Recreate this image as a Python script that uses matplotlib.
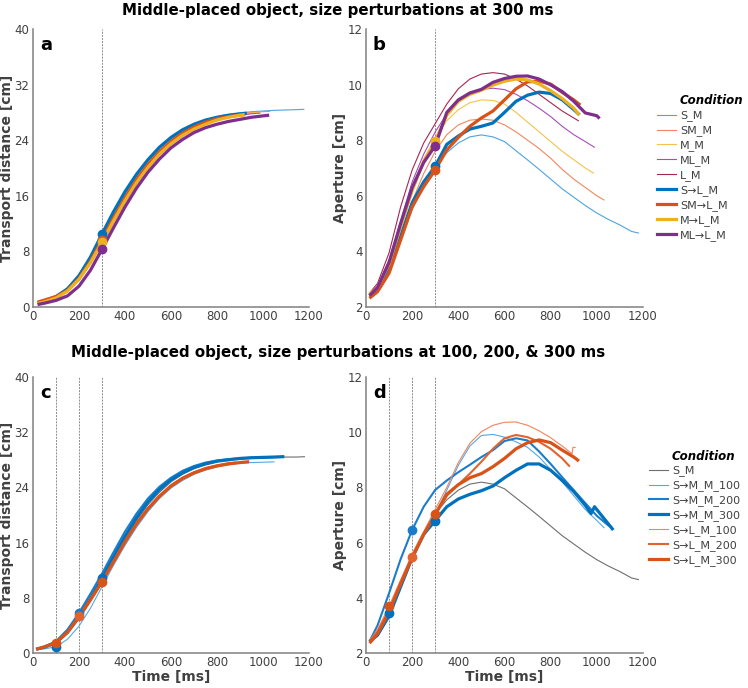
import matplotlib
matplotlib.use("Agg")
import matplotlib.pyplot as plt

plt.rcParams['font.family'] = ['DejaVu Sans']

# ---------------- data ----------------
T_GRID = [20, 50, 100, 150, 200, 250, 300, 350, 400, 450, 500, 550, 600, 650,
          700, 750, 800, 850, 900, 950, 1000, 1050, 1100, 1150, 1180]

# Panel a: transport distance [cm]
a_labels = ["S_M", "SM_M", "M_M", "ML_M", "L_M", "S→L_M", "SM→L_M", "M→L_M", "ML→L_M"]
a_end = [1180, 1031, 985, 989, 920, 930, 923, 920, 1027]
a_S_M = [0.6, 0.9, 1.6, 2.8, 4.7, 7.3, 10.2, 13.3, 16.2, 18.8, 21.0, 22.8, 24.2, 25.3, 26.2,
         26.9, 27.4, 27.7, 27.9, 28.1, 28.2, 28.3, 28.35, 28.4, 28.45]
a_SM_M = [0.7, 1.0, 1.6, 2.6, 4.3, 6.9, 9.9, 13.0, 15.9, 18.5, 20.7, 22.6, 24.0, 25.2, 26.1,
          26.8, 27.3, 27.6, 27.8, 28.0, 28.1, 28.15]
a_M_M = [0.5, 0.8, 1.4, 2.4, 4.1, 6.6, 9.6, 12.7, 15.6, 18.2, 20.4, 22.3, 23.8, 25.0, 25.9,
         26.6, 27.1, 27.4, 27.7, 27.9, 28.0]
a_ML_M = [0.4, 0.65, 1.2, 2.2, 3.8, 6.2, 9.1, 12.2, 15.1, 17.8, 20.0, 21.9, 23.4, 24.6, 25.6,
          26.3, 26.9, 27.3, 27.6, 27.8, 27.9]
a_L_M = [0.5, 0.8, 1.3, 2.3, 4.0, 6.5, 9.5, 12.6, 15.5, 18.1, 20.3, 22.2, 23.7, 24.9, 25.8,
         26.5, 27.0, 27.4, 27.7, 27.8]
a_S_L = [0.6, 0.9, 1.5, 2.6, 4.5, 7.2, 10.5, 13.7, 16.6, 19.1, 21.2, 23.0, 24.4, 25.5, 26.3,
         26.9, 27.3, 27.6, 27.8, 27.9]
a_SM_L = [0.7, 1.0, 1.5, 2.4, 4.1, 6.6, 9.7, 12.8, 15.7, 18.3, 20.5, 22.3, 23.8, 25.0, 25.9,
          26.6, 27.1, 27.4, 27.6, 27.7]
a_M_L = [0.5, 0.75, 1.3, 2.3, 4.0, 6.4, 9.3, 12.4, 15.3, 17.9, 20.1, 22.0, 23.5, 24.7, 25.6,
         26.3, 26.9, 27.3, 27.6, 27.7]
a_ML_L = [0.35, 0.55, 0.95, 1.6, 3.0, 5.3, 8.3, 11.4, 14.4, 17.1, 19.4, 21.3, 22.9, 24.1, 25.1,
          25.8, 26.3, 26.7, 27.0, 27.3, 27.5, 27.6]
a_dot_t = [300, 300, 300, 300]
a_dot_v = [10.5, 9.7, 9.3, 8.3]

# Panel b: aperture [cm]
b_end = [1180, 1031, 985, 989, 920, 920, 923, 920, 1007]
b_S_M = [2.45, 2.6, 3.3, 4.4, 5.5, 6.35, 7.05, 7.55, 7.9, 8.12, 8.19, 8.12, 7.95, 7.62, 7.29,
         6.95, 6.6, 6.25, 5.95, 5.65, 5.38, 5.15, 4.95, 4.72, 4.66]
b_SM_M = [2.45, 2.65, 3.4, 4.6, 5.8, 6.8, 7.6, 8.2, 8.55, 8.72, 8.76, 8.72, 8.55, 8.3, 8.0,
          7.7, 7.35, 6.95, 6.6, 6.3, 6.0, 5.85]
b_M_M = [2.5, 2.7, 3.5, 4.8, 6.1, 7.2, 8.08, 8.7, 9.1, 9.35, 9.45, 9.43, 9.3, 9.0, 8.65,
         8.3, 7.95, 7.6, 7.3, 7.0, 6.82]
b_ML_M = [2.5, 2.75, 3.7, 5.1, 6.5, 7.5, 8.3, 8.95, 9.4, 9.7, 9.83, 9.87, 9.82, 9.65, 9.42,
          9.15, 8.85, 8.5, 8.2, 7.95, 7.75]
b_L_M = [2.55, 2.85, 3.95, 5.6, 6.93, 7.9, 8.6, 9.3, 9.85, 10.2, 10.38, 10.43, 10.38, 10.2, 9.95,
         9.65, 9.35, 9.05, 8.8, 8.7]
b_S_L = [2.45, 2.6, 3.35, 4.55, 5.75, 6.5, 7.07, 7.85, 8.15, 8.4, 8.5, 8.62, 9.0, 9.4, 9.62,
         9.73, 9.68, 9.45, 9.1, 8.95]
b_SM_L = [2.35, 2.55, 3.22, 4.41, 5.61, 6.33, 6.93, 7.65, 8.1, 8.5, 8.8, 9.05, 9.45, 9.85, 10.1,
          10.12, 10.02, 9.72, 9.45, 9.3]
b_M_L = [2.5, 2.7, 3.55, 4.9, 6.2, 7.25, 7.98, 8.9, 9.4, 9.65, 9.8, 9.98, 10.12, 10.2, 10.17,
         10.02, 9.78, 9.5, 9.15, 8.95]
b_ML_L = [2.45, 2.7, 3.6, 5.0, 6.3, 7.2, 7.8, 9.0, 9.45, 9.7, 9.83, 10.08, 10.22, 10.3, 10.31,
          10.2, 9.99, 9.75, 9.4, 8.98, 8.88, 8.82]
b_dot_t = [300, 300, 300, 300]
b_dot_v = [7.07, 6.93, 7.98, 7.8]

# Panel c: transport distance [cm]
c_labels = ["S_M", "S→M_M_100", "S→M_M_200", "S→M_M_300", "S→L_M_100", "S→L_M_200", "S→L_M_300"]
c_end = [1180, 1048, 1060, 1086, 895, 880, 933]
c_S_M = [0.6, 0.9, 1.6, 3.0, 5.0, 7.6, 10.5, 13.5, 16.5, 19.2, 21.5, 23.3, 24.8, 25.9, 26.7,
         27.3, 27.7, 28.0, 28.1, 28.2, 28.3, 28.35, 28.4, 28.4, 28.45]
c_SM_100 = [0.5, 0.6, 0.9, 2.0, 3.9, 6.5, 9.6, 12.7, 15.6, 18.2, 20.5, 22.4, 23.9, 25.0, 25.9,
            26.5, 27.0, 27.3, 27.5, 27.6, 27.65, 27.7]
c_SM_200 = [0.6, 0.9, 1.7, 3.4, 5.8, 8.6, 11.5, 14.6, 17.6, 20.2, 22.4, 24.1, 25.4, 26.4, 27.1,
            27.6, 27.9, 28.1, 28.2, 28.3, 28.35, 28.4]
c_SM_300 = [0.6, 0.85, 1.5, 3.0, 5.2, 7.9, 10.8, 13.9, 16.9, 19.6, 21.9, 23.7, 25.1, 26.1, 26.9,
            27.4, 27.8, 28.0, 28.2, 28.3, 28.35, 28.4, 28.45]
c_SL_100 = [0.6, 0.9, 1.4, 2.9, 5.1, 7.6, 10.3, 13.2, 16.1, 18.7, 20.9, 22.7, 24.2, 25.3, 26.1,
            26.7, 27.1, 27.4, 27.6]
c_SL_200 = [0.6, 0.9, 1.5, 3.0, 5.36, 7.8, 10.4, 13.3, 16.2, 18.8, 21.0, 22.8, 24.3, 25.4, 26.2,
            26.8, 27.2, 27.5, 27.6]
c_SL_300 = [0.6, 0.9, 1.5, 3.0, 5.2, 7.7, 10.3, 13.2, 16.1, 18.7, 20.9, 22.7, 24.2, 25.3, 26.1,
            26.7, 27.1, 27.4, 27.6, 27.7]
c_dot_t = [100, 200, 300, 100, 200, 300]
c_dot_v = [0.92, 5.8, 10.8, 1.4, 5.36, 10.3]

# Panel d: aperture [cm]
d_end = [1180, 1031, 1060, 1067, 906, 880, 917]
d_S_M = b_S_M
d_SM_100 = [2.5, 2.8, 3.46, 4.5, 5.5, 6.35, 7.05, 7.9, 8.8, 9.5, 9.88, 9.92, 9.82, 9.65, 9.45,
            9.1, 8.65, 8.2, 7.7, 7.2, 6.8, 6.54]
d_SM_200 = [2.5, 3.0, 4.17, 5.4, 6.46, 7.3, 7.91, 8.25, 8.55, 8.82, 9.1, 9.35, 9.68, 9.78, 9.7,
            9.3, 8.85, 8.37, 7.9, 7.43, 6.97, 6.62, 6.58]
d_SM_300_t = [20, 50, 100, 150, 200, 250, 300, 350, 400, 450, 500, 550, 600, 650, 700, 750,
              800, 850, 900, 950, 975, 990, 1067]
d_SM_300 = [2.45, 2.65, 3.35, 4.4, 5.45, 6.3, 6.8, 7.3, 7.58, 7.75, 7.88, 8.05, 8.35, 8.62, 8.85,
            8.85, 8.62, 8.25, 7.85, 7.35, 7.05, 7.3, 6.5]
d_SL_100_t = [20, 50, 100, 150, 200, 250, 300, 350, 400, 450, 500, 550, 600, 650, 700, 750,
              800, 850, 893, 896, 906]
d_SL_100 = [2.5, 2.85, 3.7, 4.65, 5.6, 6.4, 7.2, 8.0, 8.9, 9.6, 10.02, 10.25, 10.36, 10.37, 10.25,
            10.05, 9.8, 9.5, 9.22, 9.45, 9.45]
d_SL_200 = [2.45, 2.75, 3.55, 4.55, 5.49, 6.3, 7.02, 7.7, 8.1, 8.5, 8.93, 9.4, 9.78, 9.9, 9.82,
            9.65, 9.4, 9.05, 8.78]
d_SL_300 = [2.4, 2.7, 3.5, 4.5, 5.45, 6.3, 7.02, 7.75, 8.1, 8.35, 8.5, 8.75, 9.05, 9.4, 9.62,
            9.72, 9.62, 9.35, 9.1, 8.99]
d_dot_t = [100, 200, 300, 100, 200, 300]
d_dot_v = [3.46, 6.46, 6.8, 3.7, 5.49, 7.02]

# ---------------- style ----------------
top_colors = ['#4fa3de', '#f2875f', '#f6c24d', '#a74dba', '#a8264c',
              '#0072bd', '#d95319', '#edb120', '#7e2f8e']
top_widths = [0.8, 0.8, 0.8, 0.8, 0.8, 2.3, 2.3, 2.3, 2.3]
bot_colors = ['#6e6e6e', '#55a8e6', '#1b7ccb', '#0072bd', '#f2845c', '#e2632e', '#d95319']
bot_widths = [0.8, 0.8, 1.5, 2.3, 0.8, 1.5, 2.3]
a_dot_colors = ['#0072bd', '#d95319', '#edb120', '#7e2f8e']
c_dot_colors = ['#0072bd', '#1b7ccb', '#0072bd', '#d95319', '#e2632e', '#d95319']

AX_GRAY = '#808080'
TXT = '#404040'


def times_for(values, end):
    return T_GRID[:len(values) - 1] + [end]


fig = plt.figure(figsize=(7.48, 6.88), dpi=100)
W, H = 748.0, 688.0


def make_ax(x0, x1, ytop, ybot):
    return fig.add_axes([x0 / W, 1 - ybot / H, (x1 - x0) / W, (ybot - ytop) / H])


ax_a = make_ax(33, 309, 29, 307)
ax_b = make_ax(366, 643, 29, 307)
ax_c = make_ax(33, 309, 377, 653)
ax_d = make_ax(366, 643, 377, 653)


def style(ax, ylim, yticks, letter, ylabel, xlabel=None, vlines=(300,)):
    ax.set_xlim(0, 1200)
    ax.set_ylim(*ylim)
    ax.set_xticks([0, 200, 400, 600, 800, 1000, 1200])
    ax.set_yticks(yticks)
    for s in ['top', 'right']:
        ax.spines[s].set_visible(False)
    for s in ['left', 'bottom']:
        ax.spines[s].set_color(AX_GRAY)
        ax.spines[s].set_linewidth(1.1)
    ax.tick_params(length=0, labelsize=8.5, labelcolor=TXT, pad=2.5)
    ax.set_ylabel(ylabel, fontsize=10, fontweight='bold', color=TXT, labelpad=0.5)
    if xlabel:
        ax.set_xlabel(xlabel, fontsize=10, fontweight='bold', color=TXT, labelpad=0.5)
    for v in vlines:
        ax.axvline(v, color='#8c8c8c', lw=0.7, ls=(0, (2, 1.2)), zorder=1)
    ax.text(0.025, 0.975, letter, transform=ax.transAxes, fontsize=13,
            fontweight='bold', va='top', ha='left', color='black')


# panel a
a_series = [a_S_M, a_SM_M, a_M_M, a_ML_M, a_L_M, a_S_L, a_SM_L, a_M_L, a_ML_L]
for vals, end, col, lw in zip(a_series, a_end, top_colors, top_widths):
    ax_a.plot(times_for(vals, end), vals, color=col, lw=lw, solid_capstyle='butt')
for t, v, col in zip(a_dot_t, a_dot_v, a_dot_colors):
    ax_a.plot(t, v, 'o', color=col, ms=6, zorder=5)
style(ax_a, (0, 40), [0, 8, 16, 24, 32, 40], 'a', 'Transport distance [cm]')

# panel b
b_series = [b_S_M, b_SM_M, b_M_M, b_ML_M, b_L_M, b_S_L, b_SM_L, b_M_L, b_ML_L]
b_lines = []
for vals, end, col, lw, lab in zip(b_series, b_end, top_colors, top_widths, a_labels):
    ln, = ax_b.plot(times_for(vals, end), vals, color=col, lw=lw, label=lab)
    b_lines.append(ln)
for t, v, col in zip(b_dot_t, b_dot_v, a_dot_colors):
    ax_b.plot(t, v, 'o', color=col, ms=6, zorder=5)
style(ax_b, (2, 12), [2, 4, 6, 8, 10, 12], 'b', 'Aperture [cm]')

# panel c
c_series = [c_S_M, c_SM_100, c_SM_200, c_SM_300, c_SL_100, c_SL_200, c_SL_300]
for vals, end, col, lw in zip(c_series, c_end, bot_colors, bot_widths):
    ax_c.plot(times_for(vals, end), vals, color=col, lw=lw)
for t, v, col in zip(c_dot_t, c_dot_v, c_dot_colors):
    ax_c.plot(t, v, 'o', color=col, ms=6, zorder=5)
style(ax_c, (0, 40), [0, 8, 16, 24, 32, 40], 'c', 'Transport distance [cm]',
      xlabel='Time [ms]', vlines=(100, 200, 300))

# panel d
d_series = [
    (times_for(d_S_M, d_end[0]), d_S_M),
    (times_for(d_SM_100, d_end[1]), d_SM_100),
    (times_for(d_SM_200, d_end[2]), d_SM_200),
    (d_SM_300_t, d_SM_300),
    (d_SL_100_t, d_SL_100),
    (times_for(d_SL_200, d_end[5]), d_SL_200),
    (times_for(d_SL_300, d_end[6]), d_SL_300),
]
d_lines = []
for (tt, vals), col, lw, lab in zip(d_series, bot_colors, bot_widths, c_labels):
    ln, = ax_d.plot(tt, vals, color=col, lw=lw, label=lab)
    d_lines.append(ln)
for t, v, col in zip(d_dot_t, d_dot_v, c_dot_colors):
    ax_d.plot(t, v, 'o', color=col, ms=6, zorder=5)
style(ax_d, (2, 12), [2, 4, 6, 8, 10, 12], 'd', 'Aperture [cm]',
      xlabel='Time [ms]', vlines=(100, 200, 300))

# legends
leg_kw = dict(frameon=False, fontsize=8, handlelength=1.75, handletextpad=0.3,
              labelspacing=0.36, borderpad=0, borderaxespad=0, loc='upper left',
              bbox_transform=fig.transFigure)
lb = fig.legend(handles=b_lines, labels=a_labels, bbox_to_anchor=(657 / W, 1 - 110.5 / H), **leg_kw)
ld = fig.legend(handles=d_lines, labels=c_labels, bbox_to_anchor=(649 / W, 1 - 465.5 / H), **leg_kw)
for leg in (lb, ld):
    for txt in leg.get_texts():
        txt.set_color(TXT)
fig.text(680 / W, 1 - 101 / H, 'Condition', fontsize=8.5, fontweight='bold',
         fontstyle='italic', va='center', ha='left', color='black')
fig.text(672 / W, 1 - 456 / H, 'Condition', fontsize=8.5, fontweight='bold',
         fontstyle='italic', va='center', ha='left', color='black')

# titles
fig.text(0.452, 1 - 11 / H, 'Middle-placed object, size perturbations at 300 ms',
         fontsize=10.8, fontweight='bold', ha='center', va='center', color='black')
fig.text(0.452, 1 - 352 / H, 'Middle-placed object, size perturbations at 100, 200, & 300 ms',
         fontsize=10.8, fontweight='bold', ha='center', va='center', color='black')

fig.savefig('out.png', dpi=100)
